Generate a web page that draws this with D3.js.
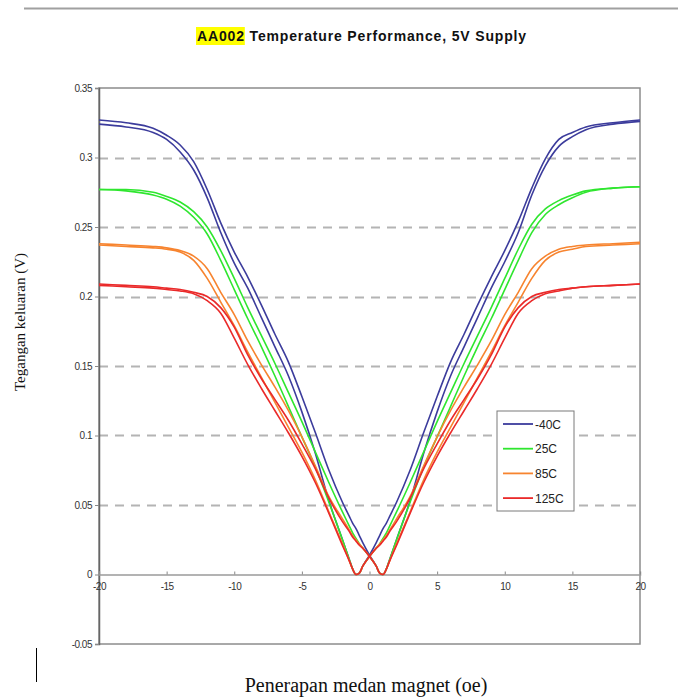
<!DOCTYPE html>
<html>
<head>
<meta charset="utf-8">
<script src="https://cdn.jsdelivr.net/npm/d3@7"></script>
<style>
  html, body { margin: 0; padding: 0; background: #fff; }
  svg { display: block; }
</style>
</head>
<body>
<svg id="chart" width="678" height="697"></svg>
<script>
// ---------- data ----------
const titleHighlight = "AA002";
const titleRest = " Temperature Performance, 5V Supply";
const yAxisTitle = "Tegangan keluaran (V)";
const xAxisTitle = "Penerapan medan magnet (oe)";

const xTicks = [-20, -15, -10, -5, 0, 5, 10, 15, 20];
const xTickLabels = ["-20", "-15", "-10", "-5", "0", "5", "10", "15", "20"];
const yTicks = [-0.05, 0, 0.05, 0.1, 0.15, 0.2, 0.25, 0.3, 0.35];
const yTickLabels = ["-0.05", "0", "0.05", "0.1", "0.15", "0.2", "0.25", "0.3", "0.35"];

const seriesNames = ["-40C", "25C", "85C", "125C"];
const seriesColors = ["#3c3c9c", "#2fe62f", "#f7842f", "#ea2a2a"];

// applied field (oe)
const field = [-20,-18,-16,-15,-14,-13,-12,-11,-10,-9,-8,-7,-6,-5,-4,-3,-2,-1.5,-1.25,-1,-0.75,-0.5,0,
               0.5,0.75,1,1.25,1.5,2,3,4,5,6,7,8,9,10,11,12,13,14,15,16,18,20];

// output voltage, two sweeps per temperature
const m40Down = [.324,.322,.318,.313,.304,.291,.271,.246,.224,.206,.185,.164,.143,.117,.087,.053,.025,.011,.004,0,.001,.006,.014,
                 .023,.028,.033,.037,.042,.052,.075,.102,.128,.153,.173,.194,.214,.233,.254,.278,.299,.313,.318,.322,.325,.327];
const m40Up   = [.327,.325,.321,.316,.309,.297,.277,.253,.232,.214,.194,.173,.153,.128,.102,.075,.052,.042,.037,.033,.028,.023,.014,
                 .006,.001,0,.004,.011,.025,.053,.087,.117,.143,.164,.185,.206,.225,.246,.273,.294,.308,.315,.320,.324,.326];
const p25Down = [.277,.276,.273,.270,.265,.257,.245,.226,.205,.184,.164,.143,.121,.099,.077,.052,.025,.011,.004,0,.001,.006,.013,
                 .019,.022,.026,.030,.035,.045,.066,.088,.110,.131,.152,.172,.192,.213,.234,.252,.263,.269,.273,.276,.278,.279];
const p25Up   = [.277,.277,.275,.272,.268,.261,.250,.233,.213,.192,.172,.152,.131,.110,.088,.066,.045,.035,.030,.026,.022,.019,.013,
                 .006,.001,0,.004,.011,.025,.052,.077,.099,.121,.143,.164,.184,.205,.226,.246,.259,.266,.271,.275,.278,.279];
const p85Down = [.237,.236,.235,.234,.232,.226,.213,.196,.179,.160,.142,.124,.106,.088,.068,.045,.022,.010,.004,0,.001,.006,.013,
                 .019,.022,.025,.028,.032,.040,.056,.078,.099,.118,.135,.151,.168,.187,.203,.220,.229,.234,.236,.237,.238,.239];
const p85Up   = [.238,.237,.236,.235,.233,.229,.220,.203,.187,.168,.151,.135,.118,.099,.078,.056,.040,.032,.028,.025,.022,.019,.013,
                 .006,.001,0,.004,.010,.022,.045,.068,.088,.106,.124,.142,.160,.179,.196,.213,.226,.232,.234,.236,.237,.238];
const p125Down = [.208,.207,.206,.205,.204,.202,.197,.188,.170,.151,.134,.118,.102,.085,.066,.044,.021,.010,.004,0,.001,.006,.013,
                  .019,.021,.024,.027,.031,.038,.055,.076,.094,.111,.126,.141,.158,.178,.192,.200,.203,.205,.206,.207,.208,.209];
const p125Up   = [.209,.208,.207,.206,.205,.203,.200,.192,.178,.158,.141,.126,.111,.094,.076,.055,.038,.031,.027,.024,.021,.019,.013,
                  .006,.001,0,.004,.010,.021,.044,.066,.085,.102,.118,.134,.151,.170,.188,.197,.202,.204,.206,.207,.208,.209];

const sweeps = [
  [m40Down, m40Up],
  [p25Down, p25Up],
  [p85Down, p85Up],
  [p125Down, p125Up]
];

// ---------- drawing ----------
const svg = d3.select("#chart");
const plot = { left: 99, right: 640, top: 88, bottom: 644 };

const x = d3.scaleLinear().domain([-20, 20]).range([plot.left, plot.right]);
const y = d3.scaleLinear().domain([-0.05, 0.35]).range([plot.bottom, plot.top]);

// top rule
svg.append("line").attr("x1", 24).attr("x2", 678).attr("y1", 8.5).attr("y2", 8.5)
  .attr("stroke", "#a0a0a0").attr("stroke-width", 2);

// title
const titleFont = "'Liberation Sans', Arial, sans-serif";
const title = svg.append("text").attr("y", 41)
  .attr("font-family", titleFont)
  .attr("font-weight", "bold").attr("font-size", 14).attr("fill", "#111");
const hlSpan = title.append("tspan").text(titleHighlight);
title.append("tspan").text(titleRest);
const nChars = (titleHighlight + titleRest).length;
const tw0 = title.node().getComputedTextLength();
const ls = (330 - tw0) / nChars;
title.attr("letter-spacing", ls);
const tw = title.node().getComputedTextLength();
const tx = 362 - tw / 2;
title.attr("x", tx);
const hlW = hlSpan.node().getComputedTextLength();
svg.insert("rect", "text").attr("x", tx - 1).attr("y", 27)
  .attr("width", hlW + 1).attr("height", 18).attr("fill", "#ffff00");

// gridlines (dashed)
svg.append("g").selectAll("line")
  .data(yTicks.filter(v => v > 0.001 && v < 0.349))
  .join("line")
  .attr("x1", plot.left).attr("x2", plot.right)
  .attr("y1", d => Math.round(y(d)) + 0.5).attr("y2", d => Math.round(y(d)) + 0.5)
  .attr("stroke", "#b4b4b4").attr("stroke-width", 2).attr("stroke-dasharray", "9,7");

// plot frame
svg.append("rect")
  .attr("x", plot.left).attr("y", plot.top)
  .attr("width", plot.right - plot.left).attr("height", plot.bottom - plot.top)
  .attr("fill", "none").attr("stroke", "#8c8c8c").attr("stroke-width", 1.5);

// y axis
const yAxis = d3.axisLeft(y).tickValues(yTicks)
  .tickFormat((d, i) => yTickLabels[i]).tickSize(4).tickPadding(3);
const gy = svg.append("g").attr("transform", `translate(${plot.left},0)`).call(yAxis);
gy.select(".domain").attr("stroke", "#666").attr("stroke-width", 1.5);
gy.selectAll(".tick line").attr("stroke", "#888");
gy.selectAll(".tick text").attr("font-family", titleFont)
  .attr("font-size", 10).attr("fill", "#333").attr("letter-spacing", -0.5);

// x axis along zero
const xAxis = d3.axisBottom(x).tickValues(xTicks)
  .tickFormat((d, i) => xTickLabels[i]).tickSize(-3).tickPadding(8);
const gx = svg.append("g").attr("transform", `translate(0,${y(0)})`).call(xAxis);
gx.select(".domain").attr("stroke", "#9a9a9a").attr("stroke-width", 1.5);
gx.selectAll(".tick line").attr("stroke", "#888");
gx.selectAll(".tick text").attr("font-family", titleFont)
  .attr("font-size", 10).attr("fill", "#333").attr("letter-spacing", -0.5);

// curves
const line = d3.line()
  .x(d => x(d[0])).y(d => y(d[1]))
  .curve(d3.curveMonotoneX);

const curves = svg.append("g");
sweeps.forEach((pair, si) => {
  pair.forEach(vals => {
    const pts = field.map((f, i) => [f, vals[i]]);
    curves.append("path").datum(pts)
      .attr("d", line)
      .attr("fill", "none")
      .attr("stroke", seriesColors[si])
      .attr("stroke-width", 1.6)
      .attr("stroke-linejoin", "round");
  });
});

// legend
const lg = svg.append("g").attr("transform", "translate(497,411)");
lg.append("rect").attr("width", 77).attr("height", 100)
  .attr("fill", "#fff").attr("stroke", "#7a7a7a").attr("stroke-width", 1);
seriesNames.forEach((name, i) => {
  const yy = 13 + i * 24.7;
  lg.append("line").attr("x1", 6).attr("x2", 36).attr("y1", yy).attr("y2", yy)
    .attr("stroke", seriesColors[i]).attr("stroke-width", 1.8);
  lg.append("text").attr("x", 38).attr("y", yy + 4.5)
    .attr("font-family", titleFont)
    .attr("font-size", 12).attr("fill", "#222").text(name);
});

// axis titles
svg.append("text")
  .attr("transform", "translate(25,322) rotate(-90)")
  .attr("text-anchor", "middle")
  .attr("font-family", "'Liberation Serif', 'Times New Roman', serif")
  .attr("font-size", 15).attr("fill", "#111").text(yAxisTitle);

svg.append("text")
  .attr("x", 366).attr("y", 692)
  .attr("text-anchor", "middle")
  .attr("font-family", "'Liberation Serif', 'Times New Roman', serif")
  .attr("font-size", 20).attr("fill", "#111").text(xAxisTitle);

// small vertical mark bottom-left
svg.append("line").attr("x1", 36.5).attr("x2", 36.5).attr("y1", 648).attr("y2", 682)
  .attr("stroke", "#000").attr("stroke-width", 1);
</script>
</body>
</html>
